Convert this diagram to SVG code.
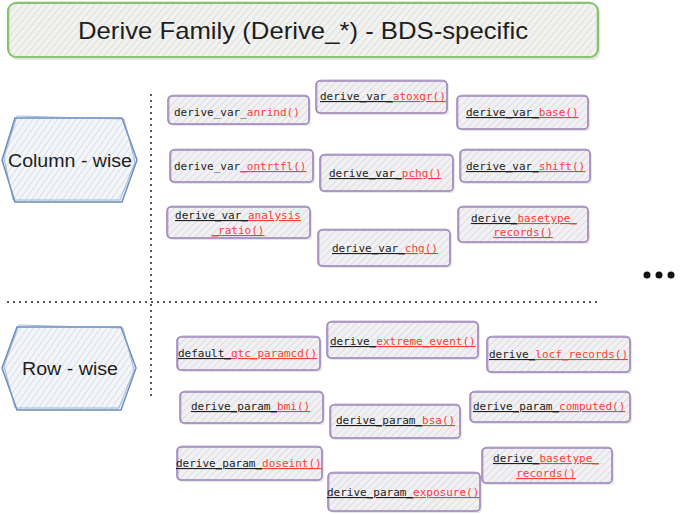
<svg xmlns="http://www.w3.org/2000/svg" width="684" height="514" viewBox="0 0 684 514">
<defs>
<pattern id="hatch" width="5" height="5" patternUnits="userSpaceOnUse" patternTransform="rotate(45)">
<rect width="5" height="5" fill="#f1f1f3"/>
<line x1="0" y1="0" x2="0" y2="5" stroke="#c9c9cc" stroke-width="1"/>
</pattern>
<pattern id="hatchB" width="5" height="5" patternUnits="userSpaceOnUse" patternTransform="rotate(35)">
<rect width="5" height="5" fill="#f3f5f8"/>
<line x1="0" y1="0" x2="0" y2="5" stroke="#c4ccd8" stroke-width="1"/>
</pattern>
<pattern id="hatchG" width="5" height="5" patternUnits="userSpaceOnUse" patternTransform="rotate(40)">
<rect width="5" height="5" fill="#f2f3f1"/>
<line x1="0" y1="0" x2="0" y2="5" stroke="#c9ccc6" stroke-width="1"/>
</pattern>
</defs>
<style>
.shadow{fill:#d6d6d6;opacity:.6}
.bx{fill:url(#hatch);stroke:#9f87bd;stroke-width:1.6}
.bx2{fill:none;stroke:#a58fc0;stroke-width:1;opacity:.7}
.hex{fill:url(#hatchB);stroke:#6c8ebf;stroke-width:1.5}
.hex2{fill:none;stroke:#7d9ccb;stroke-width:1;opacity:.7}
.t{font-family:"DejaVu Sans Mono","Liberation Mono",monospace;font-size:11px;fill:#1e1e1e}
.r{fill:#ff3b3b}
.u{text-decoration:underline}
.hand{font-family:"Liberation Sans","DejaVu Sans",sans-serif;fill:#1e1e1e}
.dots{stroke:#1e1e1e;stroke-width:2;stroke-linecap:round;stroke-dasharray:0 6;fill:none}
</style>

<g id="title">
<rect x="10" y="5" width="590" height="55" rx="8" class="shadow"/>
<rect x="8" y="3" width="590" height="54" rx="8" fill="url(#hatchG)" stroke="#86c06a" stroke-width="2"/>
<rect x="9" y="2" width="588" height="55" rx="8" fill="none" stroke="#9acb82" stroke-width="1" opacity=".7"/>
<text x="303" y="39" class="hand" font-size="24" text-anchor="middle" textLength="450" lengthAdjust="spacingAndGlyphs">Derive Family (Derive_*) - BDS-specific</text>
</g>

<g id="separators">
<line x1="151" y1="95" x2="151" y2="400" class="dots"/>
<line x1="8" y1="302" x2="600" y2="302" class="dots"/>
</g>

<g id="column-wise">
<polygon points="2,160 15,118 122,118 137,160 122,202 15,202" class="hex"/>
<polygon points="4,158 17,116 124,119 135,162 120,200 13,200" class="hex2"/>
<text x="70" y="167" class="hand" font-size="18" text-anchor="middle" textLength="124" lengthAdjust="spacingAndGlyphs">Column - wise</text>
</g>

<g id="row-wise">
<polygon points="2,368 17,327 121,327 136,368 121,410 17,410" class="hex"/>
<polygon points="4,366 19,325 123,328 134,370 119,408 15,408" class="hex2"/>
<text x="70" y="375" class="hand" font-size="18" text-anchor="middle" textLength="96" lengthAdjust="spacingAndGlyphs">Row - wise</text>
</g>

<g id="more">
<circle cx="647" cy="275" r="3.5" fill="#111"/>
<circle cx="659" cy="275" r="3.5" fill="#111"/>
<circle cx="671" cy="275" r="3.5" fill="#111"/>
</g>

<g id="derive_var_anrind">
<rect x="170" y="98" width="141" height="28" rx="4" class="shadow"/>
<rect x="168" y="96" width="141" height="28" rx="4" class="bx"/>
<rect x="169" y="95" width="140" height="29" rx="4" class="bx2"/>
<text x="174" y="116" class="t">derive_var_<tspan class="r">anrind()</tspan></text>
</g>

<g id="derive_var_atoxgr">
<rect x="318" y="83" width="131" height="32" rx="4" class="shadow"/>
<rect x="316" y="81" width="131" height="32" rx="4" class="bx"/>
<rect x="317" y="80" width="130" height="33" rx="4" class="bx2"/>
<text x="320" y="100" class="t"><tspan class="u">derive_var_</tspan><tspan class="r u">atoxgr()</tspan></text>
</g>

<g id="derive_var_base">
<rect x="459" y="98" width="131" height="33" rx="4" class="shadow"/>
<rect x="457" y="96" width="131" height="33" rx="4" class="bx"/>
<rect x="458" y="95" width="130" height="34" rx="4" class="bx2"/>
<text x="466" y="116" class="t"><tspan class="u">derive_var_</tspan><tspan class="r u">base()</tspan></text>
</g>

<g id="derive_var_ontrtfl">
<rect x="172" y="152" width="143" height="32" rx="4" class="shadow"/>
<rect x="170" y="150" width="143" height="32" rx="4" class="bx"/>
<rect x="171" y="149" width="142" height="33" rx="4" class="bx2"/>
<text x="174" y="170" class="t">derive_var<tspan class="r u">_ontrtfl()</tspan></text>
</g>

<g id="derive_var_pchg">
<rect x="322" y="157" width="133" height="36" rx="4" class="shadow"/>
<rect x="320" y="155" width="133" height="36" rx="4" class="bx"/>
<rect x="321" y="154" width="132" height="37" rx="4" class="bx2"/>
<text x="329" y="177" class="t"><tspan class="u">derive_var_</tspan><tspan class="r u">pchg()</tspan></text>
</g>

<g id="derive_var_shift">
<rect x="462" y="152" width="130" height="32" rx="4" class="shadow"/>
<rect x="460" y="150" width="130" height="32" rx="4" class="bx"/>
<rect x="461" y="149" width="129" height="33" rx="4" class="bx2"/>
<text x="466" y="170" class="t"><tspan class="u">derive_var_</tspan><tspan class="r u">shift()</tspan></text>
</g>

<g id="derive_var_analysis_ratio">
<rect x="169" y="209" width="143" height="31" rx="4" class="shadow"/>
<rect x="167" y="207" width="143" height="31" rx="4" class="bx"/>
<rect x="168" y="206" width="142" height="32" rx="4" class="bx2"/>
<text x="238" y="219" class="t" text-anchor="middle"><tspan class="u">derive_var_</tspan><tspan class="r u">analysis</tspan></text>
<text x="238" y="234" class="t r u" text-anchor="middle">_ratio()</text>
</g>

<g id="derive_var_chg">
<rect x="320" y="232" width="132" height="36" rx="4" class="shadow"/>
<rect x="318" y="230" width="132" height="36" rx="4" class="bx"/>
<rect x="319" y="229" width="131" height="37" rx="4" class="bx2"/>
<text x="332" y="252" class="t"><tspan class="u">derive_var_</tspan><tspan class="r u">chg()</tspan></text>
</g>

<g id="derive_basetype_records_col">
<rect x="460" y="209" width="130" height="35" rx="4" class="shadow"/>
<rect x="458" y="207" width="130" height="35" rx="4" class="bx"/>
<rect x="459" y="206" width="129" height="36" rx="4" class="bx2"/>
<text x="524" y="222" class="t" text-anchor="middle"><tspan class="u">derive_</tspan><tspan class="r u">basetype_</tspan></text>
<text x="523" y="236" class="t r u" text-anchor="middle">records()</text>
</g>

<g id="default_qtc_paramcd">
<rect x="179" y="339" width="143" height="33" rx="4" class="shadow"/>
<rect x="177" y="337" width="143" height="33" rx="4" class="bx"/>
<rect x="178" y="336" width="142" height="34" rx="4" class="bx2"/>
<text x="178" y="357" class="t"><tspan class="u">default_</tspan><tspan class="r u">qtc_paramcd()</tspan></text>
</g>

<g id="derive_extreme_event">
<rect x="329" y="324" width="151" height="36" rx="4" class="shadow"/>
<rect x="327" y="322" width="151" height="36" rx="4" class="bx"/>
<rect x="328" y="321" width="150" height="37" rx="4" class="bx2"/>
<text x="330" y="345" class="t"><tspan class="u">derive_</tspan><tspan class="r u">extreme_event()</tspan></text>
</g>

<g id="derive_locf_records">
<rect x="489" y="339" width="143" height="35" rx="4" class="shadow"/>
<rect x="487" y="337" width="143" height="35" rx="4" class="bx"/>
<rect x="488" y="336" width="142" height="36" rx="4" class="bx2"/>
<text x="489" y="358" class="t"><tspan class="u">derive_</tspan><tspan class="r u">locf_records()</tspan></text>
</g>

<g id="derive_param_bmi">
<rect x="182" y="394" width="143" height="31" rx="4" class="shadow"/>
<rect x="180" y="392" width="143" height="31" rx="4" class="bx"/>
<rect x="181" y="391" width="142" height="32" rx="4" class="bx2"/>
<text x="191" y="410" class="t"><tspan class="u">derive_param_</tspan><tspan class="r u">bmi()</tspan></text>
</g>

<g id="derive_param_bsa">
<rect x="332" y="407" width="130" height="33" rx="4" class="shadow"/>
<rect x="330" y="405" width="130" height="33" rx="4" class="bx"/>
<rect x="331" y="404" width="129" height="34" rx="4" class="bx2"/>
<text x="336" y="424" class="t"><tspan class="u">derive_param_</tspan><tspan class="r u">bsa()</tspan></text>
</g>

<g id="derive_param_computed">
<rect x="472" y="394" width="160" height="30" rx="4" class="shadow"/>
<rect x="470" y="392" width="160" height="30" rx="4" class="bx"/>
<rect x="471" y="391" width="159" height="31" rx="4" class="bx2"/>
<text x="473" y="410" class="t"><tspan class="u">derive_param_</tspan><tspan class="r u">computed()</tspan></text>
</g>

<g id="derive_param_doseint">
<rect x="179" y="449" width="145" height="33" rx="4" class="shadow"/>
<rect x="177" y="447" width="145" height="33" rx="4" class="bx"/>
<rect x="178" y="446" width="144" height="34" rx="4" class="bx2"/>
<text x="176" y="467" class="t"><tspan class="u">derive_param_</tspan><tspan class="r u">doseint()</tspan></text>
</g>

<g id="derive_param_exposure">
<rect x="330" y="475" width="152" height="38" rx="4" class="shadow"/>
<rect x="328" y="473" width="152" height="38" rx="4" class="bx"/>
<rect x="329" y="472" width="151" height="39" rx="4" class="bx2"/>
<text x="327" y="496" class="t"><tspan class="u">derive_param_</tspan><tspan class="r u">exposure()</tspan></text>
</g>

<g id="derive_basetype_records_row">
<rect x="484" y="450" width="130" height="35" rx="4" class="shadow"/>
<rect x="482" y="448" width="130" height="35" rx="4" class="bx"/>
<rect x="483" y="447" width="129" height="36" rx="4" class="bx2"/>
<text x="546" y="462" class="t" text-anchor="middle"><tspan class="u">derive_</tspan><tspan class="r u">basetype_</tspan></text>
<text x="546" y="477" class="t r u" text-anchor="middle">records()</text>
</g>
</svg>
